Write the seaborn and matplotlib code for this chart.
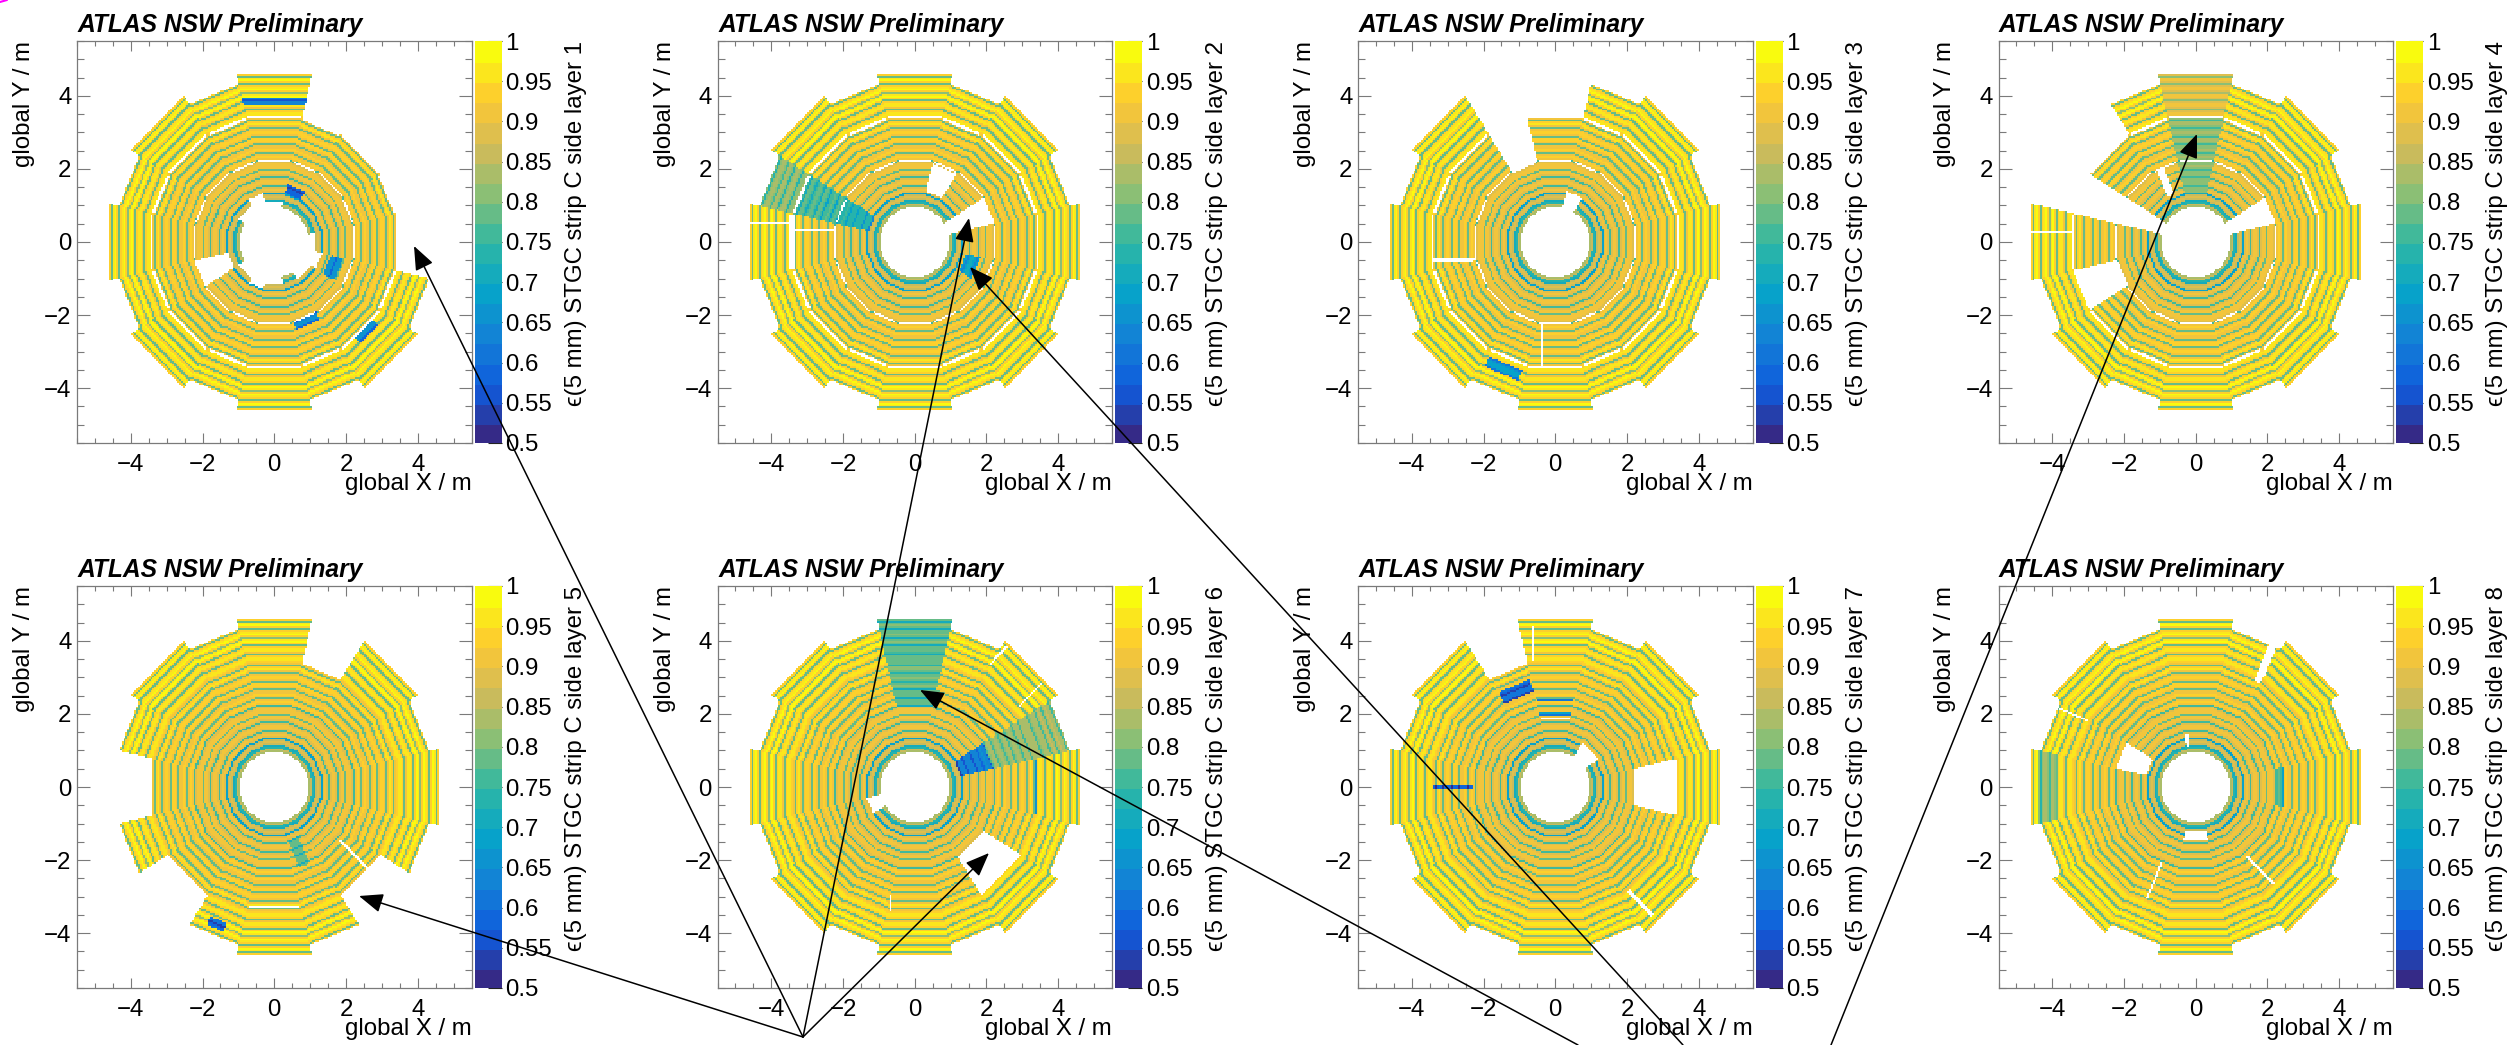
import numpy as np
import pandas as pd
import matplotlib
matplotlib.use("Agg")
import matplotlib.pyplot as plt
from matplotlib.colors import LinearSegmentedColormap, ListedColormap
from matplotlib.ticker import FixedLocator, FixedFormatter
import seaborn as sns

# ---- values ----
x_major = [-4, -2, 0, 2, 4]
x_minor = [-5.5, -5, -4.5, -3.5, -3, -2.5, -1.5, -1, -0.5, 0.5, 1, 1.5, 2.5, 3, 3.5, 4.5, 5, 5.5]
cbar_ticks = [0.5, 0.55, 0.6, 0.65, 0.7, 0.75, 0.8, 0.85, 0.9, 0.95, 1.0]
cbar_labels = ["0.5", "0.55", "0.6", "0.65", "0.7", "0.75", "0.8", "0.85", "0.9", "0.95", "1"]

# efficiency per 5 cm row along the sector axis, from d = 0.95 m outwards
row_eff = [.84, .86, .74, .72, .86, .88, .86, .70, .89, .90, .89, .76, .89, .91, .91, .89, .77, .89, .91, .90,
           .78, .90, .92, .91, .89, .77, .91, .93, .92, .78, .90, .93, .92, .90, .78, .91, .94, .93, .79, .90,
           .94, .93, .90, .79, .92, .95, .94, .79, .92, .94, .96, .95, .93, .79, .92, .97, .96, .93, .79, .93,
           .98, .97, .80, .93, .98, .97, .93, .79, .94, .98, .97, .79, .94, .98]

# missing detector pieces per layer: (sector, d_min, d_max)
missing_1 = [(0, 3.42, 9), (1, 3.42, 9), (2, 3.42, 9), (3, 3.42, 9), (9, 1.3, 2.25), (5, 0, 1.35), (15, 0, 1.35), (11, 0, 1.3),
             (10, 0, 1.15), (12, 0, 1.15), (14, 0, 1.2), (0, 0, 1.15), (4, 0, 1.08), (6, 0, 1.15)]
missing_2 = [(3, 1.4, 2.17), (1, 0, 2.25)]
missing_3 = [(4, 3.42, 9), (5, 2.22, 9), (3, 0, 1.4)]
missing_4 = [(6, 3.42, 9), (7, 0, 9), (1, 0, 2.25), (9, 2.22, 3.42)]
missing_5 = [(3, 3.42, 9), (8, 3.42, 9), (10, 3.42, 9), (14, 3.42, 9)]
missing_6 = [(14, 2.22, 3.42), (9, 0, 1.35)]
missing_7 = [(5, 3.42, 9), (0, 2.22, 3.42), (2, 0, 1.4)]
missing_8 = [(7, 1.4, 2.25)]
missing = [missing_1, missing_2, missing_3, missing_4, missing_5, missing_6, missing_7, missing_8]

# dead strips per layer: (sector, d_min, d_max, t_centre, t_width)
cracks_1 = []
cracks_2 = [(8, 3.42, 9, -0.52, .08), (8, 2.22, 3.42, -0.32, .06)]
cracks_3 = [(12, 2.25, 3.42, -0.36, .05), (8, 2.22, 3.42, 0.5, .07)]
cracks_4 = [(5, 1.45, 2.22, 0.15, .2), (8, 3.42, 9, -0.27, .06)]
cracks_5 = [(14, 2.3, 3.42, 0.27, .08)]
cracks_6 = [(12, 2.6, 3.42, -0.65, .05), (2, 3.6, 4.55, 0.9, .05), (2, 3.6, 4.55, -0.5, .05)]
cracks_7 = [(4, 3.45, 4.4, 0.62, .05), (14, 3.45, 4.4, -0.57, .08)]
cracks_8 = [(3, 3.3, 4.4, -0.5, .22), (7, 3.45, 4.4, -0.53, .05), (11, 2.25, 3.35, -0.09, .05),
            (14, 2.35, 3.4, -0.33, .05), (4, 1.1, 1.45, 0.26, .1), (12, 1.22, 1.43, 0, .66)]
cracks = [cracks_1, cracks_2, cracks_3, cracks_4, cracks_5, cracks_6, cracks_7, cracks_8]

# low efficiency patches per layer: (sector, d_min, d_max, t_min, t_max, efficiency)
low_1 = [(4, 3.75, 3.95, -1, 1, .62), (3, 1.35, 1.6, -.4, .4, .6), (15, 1.6, 1.95, -.3, .3, .66),
         (13, 2.22, 2.45, -.35, .35, .64), (14, 3.42, 3.65, -.25, .45, .64)]
low_2 = [(7, 3.42, 9, -1, 1, .8), (7, 2.22, 3.42, -1, 1, .76), (7, 1.3, 2.22, -1, 1, .74), (15, 1.45, 1.85, -.35, .35, .7)]
low_3 = [(11, 3.6, 3.9, -.5, .5, .66)]
low_4 = [(4, 2.22, 3.42, -1, 1, .81), (4, 1.3, 2.22, -1, 1, .82), (4, 3.42, 9, -1.1, 1.1, .88)]
low_5 = [(11, 3.95, 4.2, -.3, .2, .58), (13, 1.5, 2.3, -.2, .1, .78)]
low_6 = [(4, 3.42, 9, -1.1, 1.1, .76), (4, 2.22, 3.42, -1, 1, .78), (1, 3.42, 9, -1, 1, .81), (1, 2.22, 3.42, -1, 1, .82),
         (1, 1.3, 2.22, -1, 1, .64), (0, 3.33, 3.42, -.8, .9, .64)]
low_7 = [(4, 1.95, 2.05, -.45, .45, .68), (4, 2.35, 2.42, -.5, .5, .6), (5, 2.65, 3.0, -.45, .45, .6), (8, 2.3, 3.4, -.04, .04, .58)]
low_8 = [(0, 2.25, 2.45, -.55, .55, .76), (8, 3.9, 4.4, -1, 1, .8)]
low = [low_1, low_2, low_3, low_4, low_5, low_6, low_7, low_8]

# service gaps between the quadruplets: (sector or None for all, d, width)
gaps_full = [(None, 2.22, .05), (None, 3.42, .08)]
gaps = [gaps_full, gaps_full + [(8, 3.42, .13)], gaps_full, gaps_full,
        [(12, 3.28, .05)], [], [(4, 1.88, .05)], []]

# ROOT kBird palette stops
bird_r = [0.2082, 0.0592, 0.0780, 0.0232, 0.1802, 0.5301, 0.8186, 0.9956, 0.9764]
bird_g = [0.1664, 0.3599, 0.5041, 0.6419, 0.7178, 0.7492, 0.7328, 0.7862, 0.9832]
bird_b = [0.5293, 0.8684, 0.8385, 0.7914, 0.6425, 0.4662, 0.3499, 0.1968, 0.0539]

# arrows overlaid on the figure (start and tip, in image pixels)
arrow_start = [(803, 1037), (803, 1037), (803, 1037), (803, 1037), (1683, 1045), (1578, 1045), (1831, 1045)]
arrow_tip = [(359, 896), (414, 246), (969, 218), (989, 853), (970, 267), (920, 690), (2197, 134)]

# ---- style ----
sns.set_theme(style="white")
plt.rcParams["font.family"] = ["Liberation Sans", "DejaVu Sans"]
W, H = 2509, 1045
cmap = ListedColormap(LinearSegmentedColormap.from_list("bird", list(zip(bird_r, bird_g, bird_b)), N=20)(np.arange(20)))
cmap.set_bad((1, 1, 1, 0))

# ---- geometry ----
BIN = 0.05
edges = np.round(np.arange(-5.5, 5.5 + BIN / 2, BIN), 3)
centres = (edges[:-1] + edges[1:]) / 2
X, Y = np.meshgrid(centres, centres)
R = np.hypot(X, Y)
PHI = np.degrees(np.arctan2(Y, X)) % 360
off_large = (PHI + 22.5) % 45 - 22.5
is_large = np.abs(off_large) <= 12.9
K = np.where(is_large, 2 * np.round(PHI / 45), 2 * np.round((PHI - 22.5) / 45) + 1).astype(int) % 16
ANG = np.radians(K * 22.5)
D = X * np.cos(ANG) + Y * np.sin(ANG)
T = -X * np.sin(ANG) + Y * np.cos(ANG)
HW = np.where(is_large, D * np.tan(np.radians(12.9)), D * np.tan(np.radians(9.6)))


def layer_map(i):
    idx = np.clip(((D - 0.95) / BIN).astype(int), 0, len(row_eff) - 1)
    z = np.asarray(row_eff)[idx]
    inside = (R >= 0.96) & np.where(is_large, D <= 4.6, D <= 4.38)
    z = np.where(inside, z, np.nan)
    for k, dmin, dmax, tmin, tmax, eff in low[i]:
        m = (K == k) & (D >= dmin) & (D < dmax) & (T >= tmin) & (T <= tmax)
        z = np.where(m, eff + (z - 0.9) * 0.5, z)
    for k, dmin, dmax in missing[i]:
        z = np.where((K == k) & (D >= dmin) & (D < dmax), np.nan, z)
    for k, dmin, dmax, t0, w in cracks[i]:
        z = np.where((K == k) & (D >= dmin) & (D < dmax) & (np.abs(T - t0) < w / 2), np.nan, z)
    for k, d0, w in gaps[i]:
        m = (np.abs(D - d0) < w / 2) & (np.abs(T) < HW - 0.04)
        if k is not None:
            m &= K == k
        z = np.where(m, np.nan, z)
    return z


# ---- figure ----
fig = plt.figure(figsize=(W / 100, H / 100), dpi=100)
col_left = [77, 717.5, 1358, 1998.5]
row_top = [41, 586]
AW, AH = 394.5, 402
grey = "#7a7a7a"
FS = 17.3


def rect(l, t, w, h):
    return [l / W, 1 - (t + h) / H, w / W, h / H]


def to_bin(v):
    return (np.asarray(v) + 5.5) / BIN


for i in range(8):
    l, t = col_left[i % 4], row_top[i // 4]
    ax = fig.add_axes(rect(l, t, AW, AH))
    cax = fig.add_axes(rect(l + 397.7, t, 27, AH))
    frame = pd.DataFrame(layer_map(i), index=centres, columns=centres)
    sns.heatmap(frame, ax=ax, cbar_ax=cax, cmap=cmap, vmin=0.5, vmax=1.0, xticklabels=False, yticklabels=False)
    ax.set_xlim(0, 220)
    ax.set_ylim(0, 220)
    ax.set_xlabel("")
    ax.set_ylabel("")
    ax.xaxis.set_major_locator(FixedLocator(to_bin(x_major)))
    ax.xaxis.set_major_formatter(FixedFormatter([str(v).replace("-", "\u2212") for v in x_major]))
    ax.xaxis.set_minor_locator(FixedLocator(to_bin(x_minor)))
    ax.yaxis.set_major_locator(FixedLocator(to_bin(x_major)))
    ax.yaxis.set_major_formatter(FixedFormatter([str(v).replace("-", "\u2212") for v in x_major]))
    ax.yaxis.set_minor_locator(FixedLocator(to_bin(x_minor)))
    ax.tick_params(axis="x", which="major", direction="in", top=True, bottom=True, length=7.2, width=0.8,
                   color=grey, labelsize=FS, labelcolor="black", pad=8)
    ax.tick_params(axis="x", which="minor", direction="in", top=True, bottom=True, length=3.6, width=0.8, color=grey)
    ax.tick_params(axis="y", which="major", direction="in", left=True, right=True, length=9.4, width=0.8,
                   color=grey, labelsize=FS, labelcolor="black", pad=4)
    ax.tick_params(axis="y", which="minor", direction="in", left=True, right=True, length=5, width=0.8, color=grey)
    for s in ax.spines.values():
        s.set_visible(True)
        s.set_color(grey)
        s.set_linewidth(0.9)

    cb = ax.collections[0].colorbar
    cb.outline.set_visible(False)
    cb.solids.set_edgecolor("face")
    cb.set_ticks(cbar_ticks)
    cb.set_ticklabels(cbar_labels)
    cb.minorticks_off()
    cax.tick_params(axis="y", direction="in", right=True, left=False, length=10, width=0.8, color="#222222",
                    labelsize=FS, labelcolor="black", pad=2.5)

    px = lambda a, b: (a / W, 1 - b / H)
    fig.text(*px(l + 0.5, t - 9), "ATLAS NSW Preliminary", fontsize=17.7, fontweight="bold", fontstyle="italic",
             ha="left", va="baseline", color="black")
    fig.text(*px(l + AW, t + AH + 41), "global X / m", fontsize=FS, ha="right", va="center", color="black")
    fig.text(*px(l - 53, t), "global Y / m", fontsize=FS, rotation=90, ha="center", va="top", color="black")
    fig.text(*px(l + 499, t), f"\u03f5(5 mm) STGC strip C side layer {i + 1}", fontsize=FS, rotation=90,
             ha="center", va="top", color="black")

# ---- overlay ----
over = fig.add_axes([0, 0, 1, 1], facecolor="none")
over.set_xlim(0, W)
over.set_ylim(H, 0)
over.axis("off")
for s, e in zip(arrow_start, arrow_tip):
    over.annotate("", xy=e, xytext=s, xycoords="data", textcoords="data",
                  arrowprops=dict(arrowstyle="-|>,head_length=1.05,head_width=0.42", lw=1.1, color="black",
                                  shrinkA=0, shrinkB=0, mutation_scale=14))
over.plot([0, 7], [2, 0], color="#ff00ff", lw=1.5, clip_on=True)

fig.savefig("out.png", dpi=100, facecolor="white")
